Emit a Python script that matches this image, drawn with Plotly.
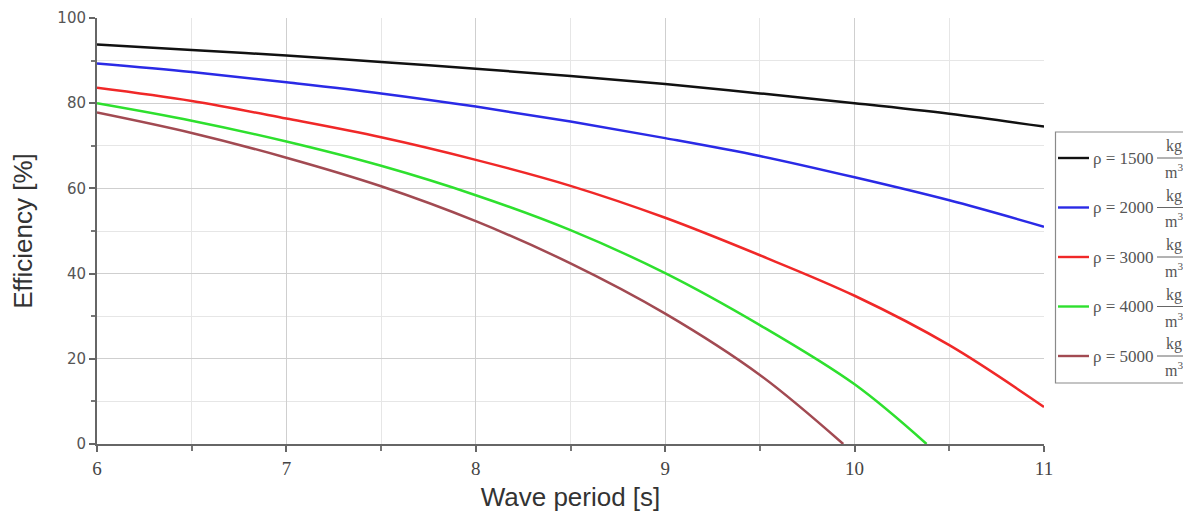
import plotly.graph_objects as go

# ---- data ----
periods = [6.0, 6.5, 7.0, 7.5, 8.0, 8.5, 9.0, 9.5, 10.0, 10.5, 11.0]
eff_1500 = [93.8, 92.5, 91.2, 89.7, 88.1, 86.4, 84.5, 82.3, 80.0, 77.5, 74.5]
eff_2000 = [89.3, 87.3, 84.9, 82.3, 79.2, 75.7, 71.8, 67.6, 62.6, 57.2, 51.0]
eff_3000 = [83.6, 80.5, 76.4, 72.0, 66.7, 60.6, 53.1, 44.3, 34.8, 23.2, 8.7]
periods_4000 = [6.0, 6.5, 7.0, 7.5, 8.0, 8.5, 9.0, 9.5, 10.0, 10.38]
eff_4000 = [80.0, 75.9, 71.0, 65.3, 58.4, 50.2, 40.1, 27.9, 14.0, 0.0]
periods_5000 = [6.0, 6.5, 7.0, 7.5, 8.0, 8.5, 9.0, 9.5, 9.94]
eff_5000 = [77.8, 73.0, 67.2, 60.5, 52.3, 42.4, 30.6, 16.2, 0.0]

densities = ["1500", "2000", "3000", "4000", "5000"]
colors = ["#111111", "#2a2ae6", "#f02828", "#2ee02e", "#a24a52"]
xs = [periods, periods, periods, periods_4000, periods_5000]
ys = [eff_1500, eff_2000, eff_3000, eff_4000, eff_5000]

x_ticks = [6, 7, 8, 9, 10, 11]
y_ticks = [0, 20, 40, 60, 80, 100]

# the page body adds an 8px offset; compensate so the plot lands where the reference has it
OFF = 8
W, H = 1191 - OFF, 517 - OFF
PL, PR, PT, PB = 97, 1044, 18, 444   # plot area in window pixels
L, T = PL - OFF, PT - OFF
PW, PH = PR - PL, PB - PT
R, B = W - L - PW, H - T - PH

fig = go.Figure()
for d, c, x, y in zip(densities, colors, xs, ys):
    fig.add_trace(go.Scatter(x=x, y=y, mode="lines", name=f"ρ = {d} kg/m³",
                             line=dict(color=c, width=2.5, shape="spline", smoothing=1.0),
                             showlegend=False))

def px_x(px):
    return (px - PL) / PW

def px_y(py):
    return (PB - py) / PH

shapes = []
annots = []
# legend frame
shapes.append(dict(type="rect", xref="paper", yref="paper",
                   x0=px_x(1055.5), x1=px_x(1200), y0=px_y(383), y1=px_y(132),
                   line=dict(color="#8a8a8a", width=1.2), fillcolor="white", layer="above"))
for i, (d, c) in enumerate(zip(densities, colors)):
    yc = 158 + 49.5 * i
    shapes.append(dict(type="line", xref="paper", yref="paper",
                       x0=px_x(1058), x1=px_x(1089), y0=px_y(yc), y1=px_y(yc),
                       line=dict(color=c, width=2.4), layer="above"))
    annots.append(dict(xref="paper", yref="paper", x=px_x(1091), y=px_y(yc),
                       xanchor="left", yanchor="middle", showarrow=False,
                       text=f"ρ = {d}",
                       font=dict(family="Liberation Serif", size=17, color="#555555")))
    shapes.append(dict(type="line", xref="paper", yref="paper",
                       x0=px_x(1157), x1=px_x(1189), y0=px_y(yc), y1=px_y(yc),
                       line=dict(color="#666666", width=1), layer="above"))
    annots.append(dict(xref="paper", yref="paper", x=px_x(1174), y=px_y(yc - 1),
                       xanchor="center", yanchor="bottom", showarrow=False,
                       text="kg",
                       font=dict(family="Liberation Serif", size=16, color="#555555")))
    annots.append(dict(xref="paper", yref="paper", x=px_x(1174), y=px_y(yc + 1),
                       xanchor="center", yanchor="top", showarrow=False,
                       text="m<sup>3</sup>",
                       font=dict(family="Liberation Serif", size=16, color="#555555")))

fig.update_layout(
    width=W, height=H,
    margin=dict(l=L, r=R, t=T, b=B, autoexpand=False),
    paper_bgcolor="white", plot_bgcolor="white",
    shapes=shapes, annotations=annots,
    showlegend=False,
)
fig.update_xaxes(
    automargin=False,
    range=[6, 11], tickvals=x_ticks, ticktext=[str(v) for v in x_ticks],
    showline=True, linecolor="#666666", linewidth=2,
    showgrid=True, gridcolor="#cfcfcf", gridwidth=1,
    ticks="outside", ticklen=6, tickcolor="#666666", tickwidth=1.5,
    minor=dict(dtick=0.5, showgrid=True, gridcolor="#e6e6e6", ticks="outside",
               ticklen=5, tickcolor="#777777"),
    zeroline=False,
    tickfont=dict(family="Liberation Serif", size=19, color="#444444"),
    title=dict(text="Wave period [s]", standoff=10,
               font=dict(family="Liberation Sans", size=26, color="#333333")),
)
fig.update_yaxes(
    automargin=False,
    range=[0, 100], tickvals=y_ticks, ticktext=[str(v) for v in y_ticks],
    showline=True, linecolor="#666666", linewidth=2,
    showgrid=True, gridcolor="#cfcfcf", gridwidth=1,
    ticks="outside", ticklen=6, tickcolor="#666666", tickwidth=1.5,
    minor=dict(dtick=10, showgrid=True, gridcolor="#e6e6e6", ticks="outside",
               ticklen=4, tickcolor="#777777"),
    zeroline=False,
    tickfont=dict(family="DejaVu Sans", size=15, color="#555555"),
    title=dict(text="Efficiency [%]", standoff=20,
               font=dict(family="Liberation Sans", size=26, color="#333333")),
)

fig.write_html("out.html")
